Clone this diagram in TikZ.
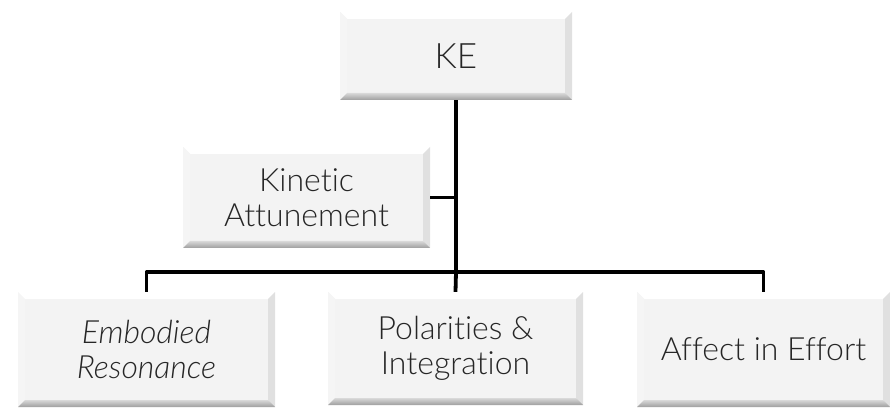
\documentclass[tikz,border=0pt]{standalone}
\usepackage{fontspec}
\setmainfont{Lato}[UprightFont=* Light, ItalicFont=* Light Italic, Ligatures=NoCommon]
\usetikzlibrary{calc}
\definecolor{boxface}{HTML}{F3F3F3}
\definecolor{txt}{HTML}{262626}
\tikzset{
  bevelbox/.style={
    rectangle, fill=boxface, inner sep=0pt, align=center, text=txt,
    font=\fontsize{32}{35}\selectfont,
    path picture={
      \coordinate (pa) at (path picture bounding box.south west);
      \coordinate (pb) at (path picture bounding box.north east);
      \coordinate (pc) at (path picture bounding box.north west);
      \coordinate (pd) at (path picture bounding box.south east);
      % top and left faces catch the light
      \fill[white] (pc) -- (pb) -- ($(pb)+(-7pt,-7pt)$) -- ($(pc)+(7pt,-7pt)$) -- cycle;
      \fill[white!96!black] (pc) -- ($(pc)+(7pt,-7pt)$) -- ($(pa)+(7pt,7pt)$) -- (pa) -- cycle;
      % right and bottom faces in shade
      \fill[white!88!black] (pb) -- (pd) -- ($(pd)+(-7pt,7pt)$) -- ($(pb)+(-7pt,-7pt)$) -- cycle;
      \shade[top color=white!85!black, bottom color=white!62!black]
        (pa) -- ($(pa)+(7pt,7pt)$) -- ($(pd)+(-7pt,7pt)$) -- (pd) -- cycle;
    }
  },
  link/.style={line width=3.8pt, black, line join=round}
}
\begin{document}
\begin{tikzpicture}[x=1pt,y=1pt]
\useasboundingbox (0,0) rectangle (890,407);
\node[bevelbox, minimum width=232pt, minimum height=88pt,
      font=\fontsize{35}{40}\selectfont] (ke) at (456,351) {KE};
\node[bevelbox, minimum width=247pt, minimum height=101pt] (ka) at (306.5,209.5) {Kinetic\\Attunement};
\node[bevelbox, minimum width=257pt, minimum height=115pt,
      font=\fontsize{32}{35}\selectfont\itshape] (er) at (146.5,57.5) {Embodied\\Resonance};
\node[bevelbox, minimum width=255pt, minimum height=113pt] (pi) at (455.5,58.5) {Polarities \&\\Integration};
\node[bevelbox, minimum width=253pt, minimum height=115pt] (ae) at (763.5,57.5) {Affect in Effort};
\coordinate (hub) at (456,135);
% trunk and branches
\draw[link] (ke.south) -- (hub);
\draw[link] (ka.east) -- (ka.east -| ke.south);
\draw[link] (er.north) -- (er.north |- hub) -- (ae.north |- hub) -- (ae.north);
\draw[link] (hub) -- (pi.north);
\end{tikzpicture}
\end{document}
